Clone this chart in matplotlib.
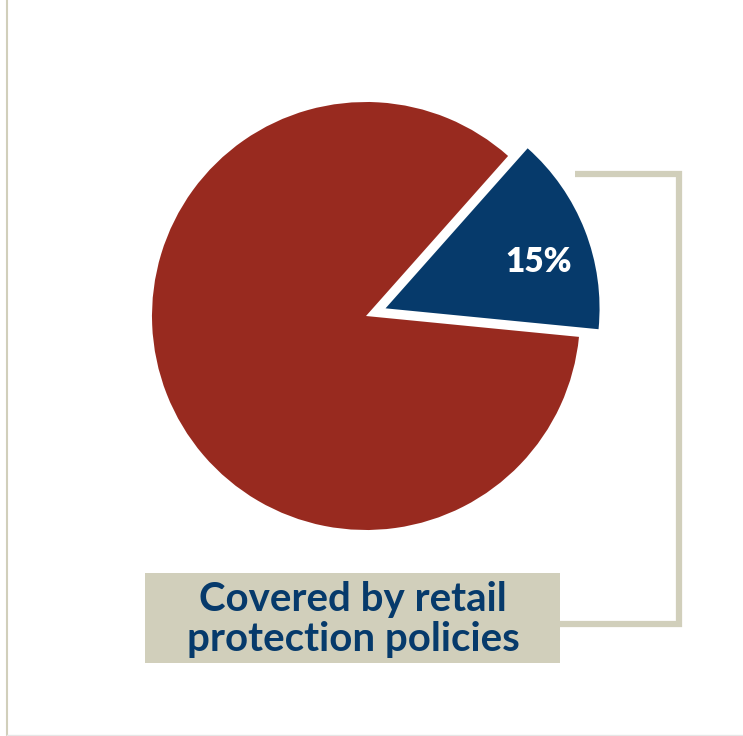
import matplotlib
matplotlib.use("Agg")
import matplotlib.pyplot as plt
from matplotlib.patches import Rectangle
import numpy as np

labels = ["Covered by retail protection policies", "Not covered"]
values = [15, 85]
pct_labels = ["15%", ""]
callout_text = "Covered by retail\nprotection policies"

RED = "#982a1f"
BLUE = "#063a6b"
BEIGE = "#d1cfbb"

W, H = 743, 736
fig = plt.figure(figsize=(W / 100, H / 100), dpi=100)
fig.patch.set_facecolor("white")
ax = fig.add_axes([0, 0, 1, 1])

cx, cy, R = 366, 736 - 316, 214
start = -5.6
expl = 21
wedges, _ = ax.pie(values, colors=[BLUE, RED], startangle=start, counterclock=True,
                   explode=[expl, 0], radius=R, center=(cx, cy),
                   wedgeprops=dict(linewidth=0), frame=True)
ax.set_xlim(0, W)
ax.set_ylim(0, H)
ax.set_aspect("equal")
ax.axis("off")

# percent label inside blue wedge
mid = np.deg2rad(start + values[0] / sum(values) * 360 / 2)
bx = cx + expl * np.cos(mid)
by = cy + expl * np.sin(mid)
theta_lab = np.deg2rad(17)
ax.text(bx + 160 * np.cos(theta_lab), by + 160 * np.sin(theta_lab), pct_labels[0],
        color="white", fontsize=24, fontweight="heavy", family="Lato", ha="center", va="center")

# bracket
ax.plot([575, 679, 679, 560], [736 - 174, 736 - 174, 736 - 624, 736 - 624],
        color=BEIGE, lw=4.5, solid_joinstyle="miter", solid_capstyle="butt")

# label box
ax.add_patch(Rectangle((145, 736 - 663), 415, 90, facecolor=BEIGE, edgecolor="none"))
ax.text(353, 736 - 619, callout_text, color=BLUE, fontsize=29, fontweight="bold",
        family="Lato", ha="center", va="center", linespacing=1.1)

# frame lines
ax.plot([7, 7], [0, H], color=BEIGE, lw=1.5)
ax.plot([7, W], [1.5, 1.5], color="#e6e6e6", lw=1)

fig.savefig("out.png", dpi=100, facecolor="white")
